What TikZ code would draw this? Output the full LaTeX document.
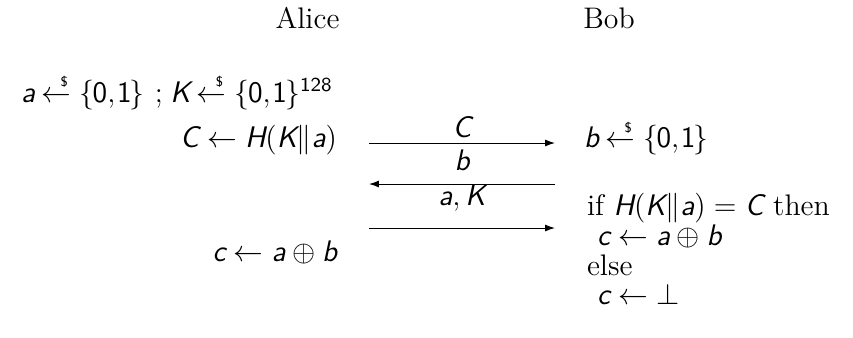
\documentclass[tikz,border=0pt]{standalone}
\usepackage{amsmath}
\usetikzlibrary{arrows.meta}
\newcommand\vr[1]{\textsf{\slshape #1}}
\newcommand\dg[1]{\textsf{#1}}
\newcommand\bits{\{\mkern-1mu\dg{0},\mkern-2mu\dg{1}\mkern-1mu\}}
\newcommand\rnd{\mkern4mu{\leftarrow}\mkern-6.5mu\raisebox{6.2pt}{\fontsize{5.5}{5.5}\selectfont\textsf{\$}}\mkern7mu}
\tikzset{
  txt/.style={inner sep=0pt, outer sep=0pt, font=\large},
  msg/.style={-{Latex[length=4pt,width=2.8pt]}, line width=0.4pt},
  lbl/.style={inner sep=0pt, anchor=base, font=\large},
}
\begin{document}
\begin{tikzpicture}[x=0.4033pt, y=-0.4033pt]
\useasboundingbox (0,0) rectangle (853,337);
% headers
\node[txt, anchor=base] (alice) at (307.5,28) {Alice};
\node[txt, anchor=base] (bob) at (609,28) {Bob};
% Alice column
\node[txt, anchor=base east] (a1) at (333,102) {$\vr{a}\rnd\bits$\hspace{4pt};\hspace{3pt}$\vr{K}\rnd\bits^{\dg{128}}$};
\node[txt, anchor=base east] (a2) at (337,147.5) {$\vr{C}\leftarrow\vr{H}(\vr{K}\|\vr{a})$};
\node[txt, anchor=base east] (a3) at (337,261) {$\vr{c}\leftarrow\vr{a}\oplus\vr{b}$};
% Bob column
\node[txt, anchor=base west] (b1) at (584,147.5) {$\vr{b}\rnd\bits$};
\node[txt, anchor=base west] (b2) at (587,215) {if $\vr{H}(\vr{K}\|\vr{a})=\vr{C}$ then};
\node[txt, anchor=base west] (b3) at (597,245) {$\vr{c}\leftarrow\vr{a}\oplus\vr{b}$};
\node[txt, anchor=base west] (b4) at (587,275) {else};
\node[txt, anchor=base west] (b5) at (597,304) {$\vr{c}\leftarrow\bot$};
% messages
\coordinate (m1l) at (369,143); \coordinate (m1r) at (555,143);
\coordinate (m2l) at (369,184); \coordinate (m2r) at (555,184);
\coordinate (m3l) at (369,228); \coordinate (m3r) at (555,228);
\draw[msg] (m1l) -- (m1r);
\draw[msg] (m2r) -- (m2l);
\draw[msg] (m3l) -- (m3r);
\node[lbl] (l1) at (462,137) {$\vr{C}$};
\node[lbl] (l2) at (462,170) {$\vr{b}$};
\node[lbl] (l3) at (462,205) {$\vr{a},\vr{K}$};
\end{tikzpicture}
\end{document}
